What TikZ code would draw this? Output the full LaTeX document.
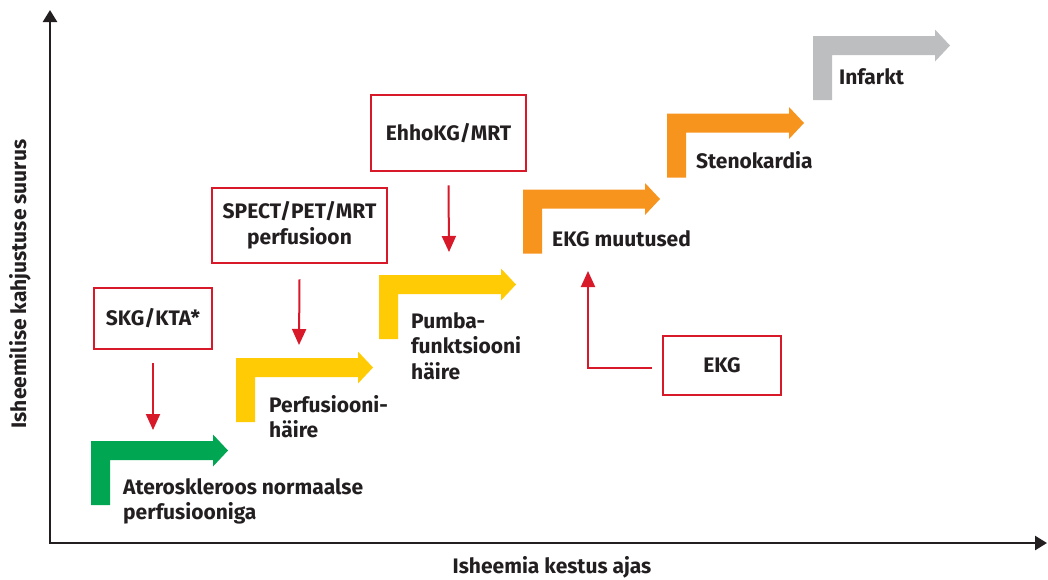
\documentclass[tikz,border=0pt]{standalone}
\usepackage{fontspec}
\setmainfont{Fira Sans}
\usetikzlibrary{arrows.meta}
\definecolor{ink}{HTML}{231F20}
\definecolor{myred}{HTML}{D7192A}
\definecolor{cgreen}{HTML}{00A651}
\definecolor{cyellow}{HTML}{FFCB05}
\definecolor{corange}{HTML}{F7941D}
\definecolor{cgray}{HTML}{BCBEC0}
\newcommand{\stepshape}[3]{%
  \fill[#3] (#1,#2+64) -- (#1,#2) -- ++(122,0) -- ++(0,-6.5) -- ++(15,16) -- ++(-15,16) -- ++(0,-6.5) -- (#1+19,#2+19) -- (#1+19,#2+64) -- cycle;}
\tikzset{
  txtfont/.style={font=\bfseries\fontsize{21}{25.5}\selectfont, text=ink},
  lbl/.style={txtfont, inner sep=0pt, anchor=north west, align=left},
  redbox/.style={draw=myred, line width=2.6pt, txtfont, align=center, inner sep=0pt},
  redarrow/.style={draw=myred, line width=2pt, -{Triangle[length=16pt,width=14pt]}},
  axisline/.style={draw=ink, line width=2.5pt, {Triangle[length=12pt,width=14pt]}-{Triangle[length=12pt,width=14pt]}},
}
\begin{document}
\begin{tikzpicture}[x=1pt,y=-1pt]
\useasboundingbox (0,0) rectangle (1048,579);
% axes
\coordinate (ytop) at (50,10);
\coordinate (O) at (50,543);
\coordinate (xend) at (1047,543);
\draw[axisline] (ytop) -- (O) -- (xend);
\node[txtfont, rotate=90] (ylab) at (20,284) {Isheemilise kahjustuse suurus};
\node[txtfont] (xlab) at (552,567) {Isheemia kestus ajas};
% step arrows
\stepshape{91}{441}{cgreen}
\stepshape{236}{358}{cyellow}
\stepshape{379}{275}{cyellow}
\stepshape{523}{189.5}{corange}
\stepshape{667}{113.5}{corange}
\stepshape{813}{36}{cgray}
% step labels
\node[lbl] (l1) at (123,478) {Ateroskleroos normaalse\\perfusiooniga};
\node[lbl] (l2) at (269,395) {Perfusiooni-\\häire};
\node[lbl] (l3) at (411,312) {Pumba-\\funktsiooni\\häire};
\node[lbl] (l4) at (552,230) {EKG muutused};
\node[lbl] (l5) at (696,151) {Stenokardia};
\node[lbl] (l6) at (839,68) {Infarkt};
% red boxes
\node[redbox, minimum width=118pt, minimum height=61pt] (skg) at (153,318.5) {SKG/KTA*};
\node[redbox, minimum width=175pt, minimum height=75pt] (spect) at (299.5,225.5) {SPECT/PET/MRT\\perfusioon};
\node[redbox, minimum width=155pt, minimum height=76pt] (echo) at (448.5,133) {EhhoKG/MRT};
\node[redbox, minimum width=118pt, minimum height=59pt] (ekg) at (722,365.5) {EKG};
% red arrows
\coordinate (skgtip) at (153,430);
\coordinate (specttip) at (299,345);
\coordinate (echotip) at (449,252);
\coordinate (ekgtip) at (588,271);
\draw[redarrow] ([yshift=-13pt]skg.south) -- (skgtip);
\draw[redarrow] ([yshift=-15pt]spect.south) -- (specttip);
\draw[redarrow] ([yshift=-13pt]echo.south) -- (echotip);
\draw[redarrow] ([xshift=-10pt,yshift=-2.5pt]ekg.west) -| (ekgtip);
\end{tikzpicture}
\end{document}
